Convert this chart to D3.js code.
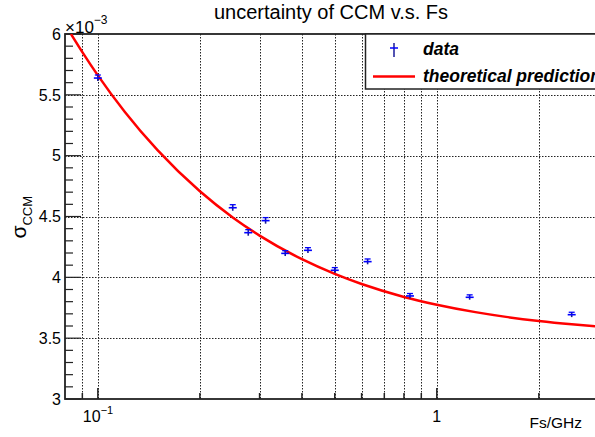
<!DOCTYPE html>
<html>
<head>
<meta charset="utf-8">
<script src="https://cdn.jsdelivr.net/npm/d3@7"></script>
<style>
  body { margin: 0; background: #fff; }
  text { font-family: "Liberation Sans", Arial, sans-serif; fill: #000; }
</style>
</head>
<body>
<svg width="595" height="437"></svg>
<script>
// measured points, sigma in units of 1e-3
var fs = [0.1, 0.25, 0.2778, 0.3125, 0.3571, 0.4167, 0.5, 0.625, 0.8333, 1.25, 2.5];
var sigma = [5.638, 4.572, 4.367, 4.466, 4.197, 4.222, 4.058, 4.129, 3.847, 3.836, 3.693];
var sigmaErr = [0.025, 0.025, 0.025, 0.025, 0.022, 0.022, 0.022, 0.022, 0.02, 0.02, 0.02];

// theoretical prediction
var predFs = [0.0833, 0.09, 0.1, 0.12, 0.15, 0.2, 0.25, 0.3, 0.4, 0.5, 0.6, 0.8, 1.0, 1.3, 1.6, 2.0, 2.5, 3.0];
var predSigma = [6.0, 5.851, 5.66, 5.361, 5.045, 4.707, 4.492, 4.343, 4.149, 4.028, 3.945, 3.839, 3.775, 3.714, 3.675, 3.641, 3.614, 3.596];

var yMajor = [3, 3.5, 4, 4.5, 5, 5.5, 6];
var yMinor = d3.range(30, 61).map(function(d) { return d / 10; });
var xGrid = [0.09, 0.1, 0.2, 0.3, 0.4, 0.5, 0.6, 0.7, 0.8, 0.9, 1, 2];
var xMajor = [0.1, 1];

var svg = d3.select("svg"),
    fLeft = 65, fTop = 34, fRight = 600, fBottom = 399;

var x = d3.scaleLog().domain([0.08, 3.03]).range([fLeft, fRight]);
var y = d3.scaleLinear().domain([3, 6]).range([fBottom, fTop]);

svg.append("clipPath").attr("id", "frame")
  .append("rect").attr("x", fLeft).attr("y", fTop)
  .attr("width", fRight - fLeft).attr("height", fBottom - fTop);

// grid
var grid = svg.append("g")
  .attr("stroke", "#222")
  .attr("stroke-width", 1)
  .attr("stroke-dasharray", "1.5,1.5");

grid.selectAll(".vg")
  .data(xGrid)
  .enter().append("line")
  .attr("x1", function(d) { return Math.round(x(d)) + 0.5; })
  .attr("x2", function(d) { return Math.round(x(d)) + 0.5; })
  .attr("y1", fTop)
  .attr("y2", fBottom);

grid.selectAll(".hg")
  .data(yMajor.slice(1, -1))
  .enter().append("line")
  .attr("x1", fLeft)
  .attr("x2", fRight)
  .attr("y1", function(d) { return Math.round(y(d)) + 0.5; })
  .attr("y2", function(d) { return Math.round(y(d)) + 0.5; });

// y ticks
svg.append("g")
  .attr("stroke", "#222")
  .attr("stroke-width", 1.2)
  .selectAll("line")
  .data(yMinor)
  .enter().append("line")
  .attr("x1", fLeft)
  .attr("x2", function(d) { return yMajor.indexOf(d) >= 0 ? fLeft + 16 : fLeft + 8; })
  .attr("y1", function(d) { return y(d); })
  .attr("y2", function(d) { return y(d); });

svg.append("g")
  .selectAll("text")
  .data(yMajor)
  .enter().append("text")
  .attr("x", fLeft - 4)
  .attr("y", function(d) { return y(d); })
  .attr("dy", "0.36em")
  .attr("text-anchor", "end")
  .attr("font-size", 16)
  .text(function(d) { return d3.format("")(d); });

// x ticks
svg.append("g")
  .attr("stroke", "#222")
  .attr("stroke-width", 1.5)
  .selectAll("line")
  .data(xGrid)
  .enter().append("line")
  .attr("x1", function(d) { return x(d); })
  .attr("x2", function(d) { return x(d); })
  .attr("y1", fBottom)
  .attr("y2", function(d) { return xMajor.indexOf(d) >= 0 ? fBottom - 11 : fBottom - 6; });

var t1 = svg.append("text")
  .attr("x", x(0.1) - 15)
  .attr("y", 422)
  .attr("font-size", 16);
t1.append("tspan").text("10");
t1.append("tspan").attr("dy", -8).attr("font-size", 11).text("\u22121");

svg.append("text")
  .attr("x", x(1))
  .attr("y", 422)
  .attr("text-anchor", "middle")
  .attr("font-size", 16)
  .text("1");

// frame
svg.append("rect")
  .attr("x", fLeft)
  .attr("y", fTop)
  .attr("width", fRight - fLeft)
  .attr("height", fBottom - fTop)
  .attr("fill", "none")
  .attr("stroke", "#222")
  .attr("stroke-width", 1.8);

// theoretical curve
var line = d3.line()
  .x(function(d, i) { return x(predFs[i]); })
  .y(function(d) { return y(d); })
  .curve(d3.curveMonotoneX);

svg.append("path")
  .attr("clip-path", "url(#frame)")
  .attr("d", line(predSigma))
  .attr("fill", "none")
  .attr("stroke", "#ff0000")
  .attr("stroke-width", 2.5);

// data points with error bars
var pts = svg.append("g")
  .selectAll("g")
  .data(sigma)
  .enter().append("g")
  .attr("transform", function(d, i) { return "translate(" + x(fs[i]) + "," + y(d) + ")"; });

pts.append("line")
  .attr("y1", function(d, i) { return y(d - sigmaErr[i]) - y(d); })
  .attr("y2", function(d, i) { return y(d + sigmaErr[i]) - y(d); })
  .attr("stroke", "#1a1a99")
  .attr("stroke-width", 1.6);

pts.append("line")
  .attr("x1", -4).attr("x2", 4)
  .attr("stroke", "#0000ff")
  .attr("stroke-width", 1.6);

pts.append("line")
  .attr("x1", -3).attr("x2", 3)
  .attr("y1", function(d, i) { return y(d + sigmaErr[i]) - y(d); })
  .attr("y2", function(d, i) { return y(d + sigmaErr[i]) - y(d); })
  .attr("stroke", "#0000ff")
  .attr("stroke-width", 1.3);

// legend
var legend = svg.append("g");
legend.append("rect")
  .attr("x", 365.5)
  .attr("y", 34)
  .attr("width", 260)
  .attr("height", 55)
  .attr("fill", "#fff")
  .attr("stroke", "#222")
  .attr("stroke-width", 1.5);

legend.append("line")
  .attr("x1", 394).attr("x2", 394).attr("y1", 43).attr("y2", 57)
  .attr("stroke", "#1a1a99").attr("stroke-width", 1.5);
legend.append("line")
  .attr("x1", 390).attr("x2", 398).attr("y1", 48).attr("y2", 48)
  .attr("stroke", "#0000ff").attr("stroke-width", 1.5);
legend.append("line")
  .attr("x1", 373).attr("x2", 415).attr("y1", 76.5).attr("y2", 76.5)
  .attr("stroke", "#ff0000").attr("stroke-width", 2.5);

legend.selectAll(".lt")
  .data(["data", "theoretical prediction"])
  .enter().append("text")
  .attr("x", 423)
  .attr("y", function(d, i) { return 55 + i * 26.5; })
  .attr("font-size", 17.5)
  .attr("font-weight", "bold")
  .attr("font-style", "italic")
  .text(function(d) { return d; });

// titles
svg.append("text")
  .attr("x", 331)
  .attr("y", 19)
  .attr("text-anchor", "middle")
  .attr("font-size", 20)
  .text("uncertainty of CCM v.s. Fs");

var exp = svg.append("text")
  .attr("x", 65)
  .attr("y", 33)
  .attr("font-size", 17);
exp.append("tspan").text("\u00d710");
exp.append("tspan").attr("dy", -9).attr("font-size", 12).text("\u22123");

svg.append("text")
  .attr("x", 582)
  .attr("y", 428)
  .attr("text-anchor", "end")
  .attr("font-size", 15.5)
  .text("Fs/GHz");

var yt = svg.append("text")
  .attr("transform", "translate(26,196) rotate(-90)")
  .attr("text-anchor", "end")
  .attr("font-size", 21);
yt.append("tspan").text("\u03c3");
yt.append("tspan").attr("dy", 6).attr("font-size", 13).text("CCM");
</script>
</body>
</html>
